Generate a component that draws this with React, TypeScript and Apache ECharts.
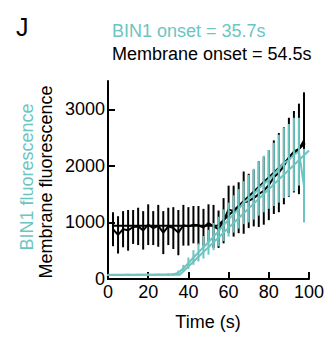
import React, { useEffect, useRef } from "react";
import * as echarts from "echarts";

// Time points (s)
const memTimes = [2.5, 5, 7.5, 10, 12.5, 15, 17.5, 20, 22.5, 25, 27.5, 30, 32.5, 35, 37.5, 40, 42.5, 45, 47.5, 50, 52.5, 55, 57.5, 60, 62.5, 65, 67.5, 70, 72.5, 75, 77.5, 80, 82.5, 85, 87.5, 90, 92.5, 95, 97.5];
// Membrane fluorescence (black)
const memValues = [880, 780, 880, 860, 920, 930, 860, 960, 900, 940, 820, 930, 900, 820, 950, 930, 960, 950, 910, 990, 930, 880, 1030, 1230, 1200, 1260, 1350, 1380, 1430, 1500, 1560, 1660, 1800, 1880, 2000, 2150, 2250, 2300, 2450];
const memErrors = [300, 330, 320, 360, 300, 330, 340, 360, 300, 370, 380, 330, 370, 400, 360, 340, 330, 340, 330, 330, 380, 330, 400, 420, 450, 450, 550, 480, 500, 580, 600, 620, 650, 700, 680, 700, 720, 800, 850];

const binTimes = [0, 2.5, 5, 7.5, 10, 12.5, 15, 17.5, 20, 22.5, 25, 27.5, 30, 32.5, 35, 37.5, 40, 42.5, 45, 47.5, 50, 52.5, 55, 57.5, 60, 62.5, 65, 67.5, 70, 72.5, 75, 77.5, 80, 82.5, 85, 87.5, 90, 92.5, 95, 97.5];
// BIN1 fluorescence (teal)
const binValues = [70, 70, 72, 70, 74, 72, 75, 73, 76, 74, 78, 76, 80, 82, 110, 190, 280, 380, 470, 560, 650, 750, 840, 950, 1050, 1150, 1240, 1350, 1420, 1500, 1600, 1680, 1760, 1850, 1950, 2050, 2100, 2200, 2250, 1650];
const binErrors = [15, 15, 15, 15, 15, 15, 15, 15, 15, 15, 15, 15, 20, 25, 40, 60, 100, 130, 160, 200, 220, 240, 260, 280, 300, 330, 350, 380, 420, 450, 480, 500, 520, 560, 600, 620, 640, 650, 600, 650];

// Onset fits
const memFitTimes = [2.5, 54.5, 98];
const memFitValues = [940, 940, 2400];
const binFitTimes = [0, 35.7, 100];
const binFitValues = [75, 75, 2270];

const xTicks = [0, 20, 40, 60, 80, 100];
const yTicks = [0, 1000, 2000, 3000];

const TEAL = "#6CC5C1";
const FONT = "Liberation Sans, Arial, Helvetica, sans-serif";

function pairs(ts: number[], vs: number[]) {
  return ts.map((t, i) => [t, vs[i]]);
}

function errorBars(ts: number[], vs: number[], es: number[], color: string, z: number) {
  return {
    type: "custom",
    data: ts.map((t, i) => [t, vs[i] - es[i], vs[i] + es[i]]),
    encode: { x: 0, y: [1, 2] },
    renderItem: (_p: any, api: any) => {
      const lo = api.coord([api.value(0), api.value(1)]);
      const hi = api.coord([api.value(0), api.value(2)]);
      return {
        type: "line",
        shape: { x1: lo[0], y1: lo[1], x2: hi[0], y2: hi[1] },
        style: { stroke: color, lineWidth: 2 },
      };
    },
    z,
    silent: true,
  };
}

function vText(text: string, x: number, y: number, fill: string) {
  return {
    type: "text",
    x,
    y,
    rotation: Math.PI / 2,
    style: {
      text,
      fontSize: 18,
      fontFamily: FONT,
      fill,
      align: "center",
      verticalAlign: "middle",
      textAlign: "center",
      textVerticalAlign: "middle",
    },
  };
}

export default function App() {
  const ref = useRef<HTMLDivElement>(null);
  useEffect(() => {
    document.body.style.margin = "0";
    const chart = echarts.init(ref.current!, null, { renderer: "svg" });
    chart.setOption({
      animation: false,
      grid: { left: 108, right: 17, top: 81, bottom: 58, containLabel: false, outerBoundsMode: "none" },
      xAxis: {
        type: "value",
        min: 0,
        max: 100,
        interval: 20,
        axisLine: { show: true, lineStyle: { color: "#000", width: 2 } },
        axisTick: { show: true, inside: true, length: 7, lineStyle: { color: "#000", width: 2 }, customValues: xTicks },
        axisLabel: { color: "#000", fontSize: 18, fontFamily: FONT, margin: 4, customValues: xTicks, formatter: (v: number) => String(v) },
        splitLine: { show: false },
      },
      yAxis: {
        type: "value",
        min: 0,
        max: 3500,
        interval: 1000,
        axisLine: { show: true, lineStyle: { color: "#000", width: 2 } },
        axisTick: { show: true, inside: true, length: 7, lineStyle: { color: "#000", width: 2 }, customValues: yTicks },
        axisLabel: { color: "#000", fontSize: 18, fontFamily: FONT, margin: 3, customValues: yTicks, formatter: (v: number) => String(v) },
        splitLine: { show: false },
      },
      graphic: [
        { type: "text", x: 16, y: 14, style: { text: "J", fontSize: 25, fontFamily: FONT, fill: "#000" } },
        { type: "text", x: 112, y: 31, style: { text: "BIN1 onset = 35.7s", fontSize: 18, fontFamily: FONT, fill: TEAL, verticalAlign: "middle", textVerticalAlign: "middle" } },
        { type: "text", x: 112, y: 54, style: { text: "Membrane onset = 54.5s", fontSize: 18, fontFamily: FONT, fill: "#000", verticalAlign: "middle", textVerticalAlign: "middle" } },
        vText("BIN1 fluorescence", 27, 177, TEAL),
        vText("Membrane fluorescence", 46, 182, "#000"),
        { type: "text", x: 208, y: 322, style: { text: "Time (s)", fontSize: 18, fontFamily: FONT, fill: "#000", align: "center", verticalAlign: "middle", textAlign: "center", textVerticalAlign: "middle" } },
      ],
      series: [
        errorBars(memTimes, memValues, memErrors, "#000", 1),
        {
          type: "line",
          data: pairs(memFitTimes, memFitValues),
          showSymbol: false,
          lineStyle: { color: "#000", width: 2 },
          z: 2,
          silent: true,
        },
        {
          type: "line",
          data: pairs(memTimes, memValues),
          showSymbol: false,
          lineStyle: { color: "#000", width: 2 },
          z: 2,
          silent: true,
        },
        errorBars(binTimes, binValues, binErrors, TEAL, 3),
        {
          type: "line",
          data: pairs(binFitTimes, binFitValues),
          showSymbol: false,
          lineStyle: { color: TEAL, width: 2 },
          z: 4,
          silent: true,
        },
        {
          type: "line",
          data: pairs(binTimes, binValues),
          showSymbol: false,
          lineStyle: { color: TEAL, width: 2 },
          z: 4,
          silent: true,
        },
      ],
    });
    return () => chart.dispose();
  }, []);
  return <div ref={ref} style={{ width: 326, height: 337, position: "absolute", left: 0, top: 0 }} />;
}
